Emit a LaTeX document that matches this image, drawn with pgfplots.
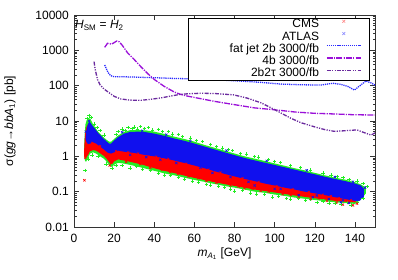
\documentclass[border=0pt]{standalone}
\usepackage{fontspec}
\setmainfont{Liberation Sans}
\usepackage{pgfplots}
\pgfplotsset{compat=1.18}
\definecolor{gpgreen}{HTML}{22EE22}
\definecolor{gpred}{HTML}{FF0000}
\definecolor{gpblue}{HTML}{1010EE}
\definecolor{fjblue}{HTML}{2A2AFF}
\definecolor{fourb}{HTML}{9A10D8}
\definecolor{tautau}{HTML}{6A2A9E}
\begin{document}
\fontsize{12}{14}\selectfont
\begin{tikzpicture}
\begin{axis}[
  scale only axis, width=301pt, height=212pt,
  xmin=0, xmax=150, ymin=0.01, ymax=10000, ymode=log,
  xtick={0,20,40,60,80,100,120,140},
  ytick={0.01,0.1,1,10,100,1000,10000},
  yticklabels={0.01,0.1,1,10,100,1000,10000},
  /pgf/number format/assume math mode=true,
  axis line style={black!80, line width=0.7pt},
  tick style={black!80, line width=0.6pt},
  major tick length=5pt, minor tick length=2.5pt,
  tick align=inside,
  xticklabel style={inner sep=0pt, yshift=-7pt},
  yticklabel style={inner sep=0pt, xshift=-5pt},
  xlabel={\textit{m}\textsubscript{\textit{A}\textsubscript{1}} [GeV]},
  ylabel={σ(\textit{gg}→\textit{bbA}\textsubscript{1}) [pb]},
  xlabel style={at={(axis description cs:0.5,0)}, anchor=center, yshift=-27pt},
  ylabel style={at={(axis description cs:0,0.5)}, anchor=center, yshift=64pt},
  legend style={at={(1,1)}, anchor=north east, xshift=-5pt, yshift=-3pt,
    line width=1.1pt, inner xsep=8pt, inner ysep=1pt,
    row sep=1.75pt, column sep=7pt,
    nodes={inner sep=0pt, text height=8.3pt, text depth=2.2pt}},
  legend cell align=right, legend plot pos=right,
  legend image code/.code={\draw[mark repeat=2,mark phase=2,#1] plot coordinates {(0pt,3.5pt) (17pt,3.5pt) (34pt,3.5pt)};},
]
% green cloud
\addplot[fill=gpgreen, draw=none, forget plot] coordinates {
(5,1.5) (5.3,4) (5.7,8) (6.3,10.5) (7,11) (8,12) (8.7,10) (9.5,8) (10.5,6.6) (12,5)
(14,3.8) (16,3.0) (17.5,2.6) (18.5,2.6) (20,3.1) (22,3.9) (25,4.9) (28,5.5) (32,5.6)
(36,5.4) (40,5.0) (45,4.3) (50,3.6) (55,3.1) (60,2.6) (65,2.1) (70,1.75) (75,1.45)
(80,1.2) (85,1.0) (90,0.86) (95,0.74) (100,0.63) (105,0.54) (110,0.46) (115,0.4)
(120,0.34) (125,0.29) (130,0.25) (135,0.22) (140,0.185) (143,0.16) (145.5,0.13)
(145.5,0.09) (143,0.06) (140,0.045) (135,0.048) (130,0.05) (125,0.054) (120,0.058)
(115,0.063) (110,0.068) (105,0.076) (100,0.083) (95,0.093) (90,0.1) (85,0.115) (80,0.13)
(75,0.145) (70,0.165) (65,0.19) (60,0.215) (55,0.25) (50,0.29) (45,0.33) (40,0.39)
(35,0.46) (30,0.54) (25,0.62) (22,0.66) (20,0.58) (19,0.5) (18,0.53) (16.5,0.68)
(15,0.85) (13,1.0) (11,1.2) (9.5,1.3) (8,1.2) (7,0.9) (6,0.7) (5.5,0.75) (5,1.2)};
\addplot[only marks, mark=+, mark size=1.7pt, gpgreen, line width=0.6pt, forget plot] coordinates {
(7.5,14.5) (8.5,12.5) (6.5,12) (10,8.3) (11.5,6.5) (13,5.3) (15,4) (21,4.2) (22,5.0) (24,6.0)
(25.5,5.4) (27,6.6) (29,6.1) (30,6.8) (31.5,5.9) (33,7.0) (35,6.2) (37,6.5) (39,5.6) (42,5.8)
(44,5.0) (47,5.0) (49,4.3) (52,4.2) (54,3.6) (58,3.3) (61,2.8) (64,2.6) (68,2.2) (71,1.9)
(74,1.7) (77,1.55) (79,1.45) (83,1.2) (86,1.15) (90,0.98) (92,0.95) (97,0.8) (100,0.72)
(103,0.66) (108,0.56) (113,0.48) (118,0.41) (124,0.34) (128,0.3) (131,0.27) (134,0.25)
(137,0.22) (141,0.2) (144,0.17) (146,0.14)
(5.5,0.4) (7,0.85) (9,1.1) (12,1.0) (16,0.6) (19,0.45) (21,0.55) (24,0.55) (28,0.47) (31,0.52)
(34,0.42) (38,0.4) (42,0.34) (45,0.3) (48,0.3) (52,0.25) (55,0.23) (59,0.2) (62,0.19)
(66,0.16) (68,0.155) (72,0.14) (75,0.13) (78,0.12) (80,0.105) (84,0.11) (88,0.092) (91,0.085)
(95,0.082) (99,0.07) (102,0.075) (106,0.065) (108,0.062) (112,0.065) (115.5,0.058) (118,0.06)
(121,0.05) (124,0.055) (127,0.048) (130,0.046) (133,0.045) (136,0.05) (138,0.042) (141,0.05) (144,0.065)};
% red cloud (CMS)
\addplot[fill=gpred, draw=none, forget plot] coordinates {
(5,1.2) (5.3,3) (5.7,5) (6.3,7) (7,8) (8,8) (9,6.5) (10,5) (12,3.8) (14,2.8) (16,2.1)
(17.5,1.7) (19,1.8) (20,2.1) (22,2.6) (25,3.0) (30,3.2) (40,2.6) (50,2.0) (60,1.5)
(70,1.1) (80,0.8) (90,0.6) (100,0.45) (110,0.34) (120,0.26) (130,0.2) (140,0.15) (143,0.12)
(143,0.07) (140,0.05) (135,0.052) (130,0.055) (125,0.06) (120,0.065) (110,0.078)
(100,0.095) (90,0.115) (80,0.145) (70,0.185) (60,0.245) (55,0.285) (50,0.335) (45,0.39)
(40,0.46) (35,0.56) (30,0.66) (25,0.76) (22,0.82) (20,0.72) (19,0.6) (18,0.62)
(16.5,0.82) (15,1.02) (13,1.22) (11,1.45) (9.5,1.5) (8,1.4) (7,1.1) (6,0.9) (5.5,0.95) (5,1.0)};
\addplot[only marks, mark=x, mark size=1.6pt, gpred, line width=0.6pt, forget plot] coordinates {
(5.2,0.21) (5.6,0.9) (17.8,0.55) (26,0.7) (33,0.6) (38,0.48) (44,0.42) (48,0.36) (52,0.32)
(57,0.27) (62,0.24) (66,0.2) (71,0.18) (78,0.15) (82,0.14) (85,0.125) (89,0.12) (93,0.105)
(97,0.1) (104,0.085) (108,0.08) (112,0.072) (118,0.062) (122,0.065) (126,0.055) (131,0.05)
(134,0.043) (137,0.05) (139,0.041) (141,0.046)};
% blue cloud (ATLAS)
\addplot[fill=gpblue, draw=none, forget plot] coordinates {
(5.8,3.5) (6.3,6) (7,8.5) (7.8,9.5) (8.5,8.5) (9.5,7) (10.5,6) (12,4.6) (14,3.5) (16,2.7)
(17.5,2.3) (18.5,2.3) (20,2.8) (22,3.5) (25,4.4) (28,4.9) (32,5) (36,4.8) (40,4.4)
(45,3.8) (50,3.2) (55,2.75) (60,2.3) (65,1.9) (70,1.57) (75,1.3) (80,1.08) (85,0.9)
(90,0.77) (95,0.66) (100,0.57) (105,0.49) (110,0.42) (115,0.36) (120,0.31) (125,0.265)
(130,0.23) (135,0.2) (140,0.17) (143,0.15) (144.5,0.12)
(144.5,0.07) (142,0.055) (140,0.055) (135,0.062) (130,0.07) (125,0.08) (120,0.09)
(115,0.1) (110,0.115) (105,0.13) (100,0.15) (95,0.17) (90,0.2) (85,0.23) (80,0.27)
(75,0.32) (70,0.38) (65,0.46) (60,0.55) (55,0.65) (50,0.76) (45,0.88) (40,1.0)
(35,1.1) (30,1.25) (25,1.35) (22,1.45) (20,1.3) (18.5,1.2) (17,1.25) (15,1.55)
(13,1.9) (11,2.3) (9.5,2.5) (8,2.3) (7,2.2) (6.3,2.5) (5.8,3)};
\addplot[only marks, mark=x, mark size=1.6pt, gpblue, line width=0.6pt, forget plot] coordinates {
(112,0.08) (119,0.07) (127,0.062) (133,0.05) (137,0.048) (142,0.06) (144,0.1) (145,0.13)
(100,0.12) (90,0.15) (5.9,5) (7.5,10) (24,4.8) (34,5.3) (46,4.1) (58,2.7) (76,1.45)
(96,0.74) (116,0.4) (130,0.26) (139,0.19)
(28,1.1) (36,0.95) (43,0.8) (51,0.65) (63,0.48) (69,0.34) (78,0.26) (87,0.19) (103,0.12)
(121,0.078) (134,0.057)};
% red specks over the blue edge
\addplot[only marks, mark=x, mark size=1.4pt, gpred, line width=0.5pt, forget plot] coordinates {
(9,2.4) (13,1.95) (21,1.4) (27,1.3) (32,1.2) (41,0.98) (47,0.85) (56,0.62) (67,0.42)
(73,0.35) (84,0.24) (92,0.19) (101,0.145) (109,0.118) (117,0.098) (124,0.082) (128,0.075)
(132,0.066) (138,0.058)};
% legend marks
\addlegendimage{only marks, mark=x, mark size=2pt, red!45, draw=red!45, line width=0.6pt}
\addlegendentry{\makebox[123pt][r]{CMS}}
\addlegendimage{only marks, mark=x, mark size=2pt, blue!45, draw=blue!45, line width=0.6pt}
\addlegendentry{\makebox[123pt][r]{ATLAS}}
% fat jet
\addplot[fjblue, draw=fjblue, line width=1.3pt, dash pattern=on 1.2pt off 0.9pt, no marks] coordinates {
(15.3,385) (16,310) (17,235) (18,200) (19,185) (20,180) (25,178) (30,175) (40,168)
(50,160) (63,154) (73,144) (83,135) (93,124) (103,111) (113,106) (123,104) (129,117)
(133,109) (136.5,95) (139.7,75) (142.5,100) (145.5,136) (148,120) (150,104)};
\addlegendentry{\makebox[123pt][r]{fat jet 2b 3000/fb}}
% 4b
\addplot[fourb, draw=fourb, line width=1.3pt, dash pattern=on 6pt off 1.2pt on 1.2pt off 1.2pt, no marks] coordinates {
(15.3,1215) (16.7,1585) (18.7,1500) (20,1650) (21.3,1835) (22.5,1750) (24,1400)
(26.7,850) (30,550) (33.3,345) (36.7,220) (40,150) (45,95) (50,66) (53,57) (57,50)
(63,43) (70,36) (80,29) (90,23.5) (101,20.5) (110,18) (120,16.5) (130,15.8) (140,15) (150,14.8)};
\addlegendentry{\makebox[123pt][r]{4b 3000/fb}}
% 2b2tau
\addplot[tautau, draw=tautau, line width=1.3pt, dash pattern=on 4pt off 1.3pt on 1.2pt off 1.3pt on 1.2pt off 1.3pt, no marks] coordinates {
(10,480) (10.5,300) (11.7,150) (13,105) (15,80) (16.7,68) (20,50) (23.3,42) (28,39)
(33.3,38.5) (38,41) (43.3,45) (50,53) (53,57) (57,59) (63,61) (70,60) (79.5,55) (86,45)
(93,33) (98,24) (103,17) (108,12) (113,9) (120,6.8) (125,5.7) (129.7,5.1) (135,5.3)
(141,5.6) (145,4.6) (148,4.0) (150,4.6)};
\addlegendentry{\makebox[123pt][r]{2b2τ 3000/fb}}
\node[anchor=north west, inner sep=0pt] at (rel axis cs:0,1) [xshift=1pt, yshift=-5pt]
  {\textit{H}\textsubscript{SM} = \textit{H}\textsubscript{2}};
\end{axis}
\pgfresetboundingbox
\useasboundingbox (-74pt,-52pt) rectangle (324pt,227pt);
\end{tikzpicture}
\end{document}
